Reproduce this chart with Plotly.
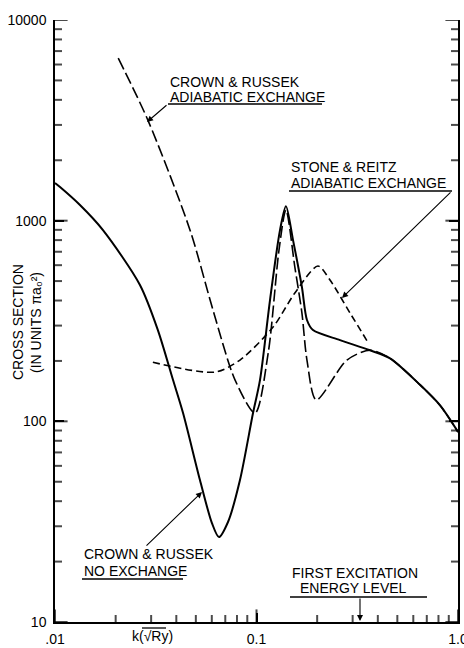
import plotly.graph_objects as go

# ---- data ----
k_no_exch = [0.0100, 0.01059, 0.0133, 0.0173, 0.0264, 0.0324, 0.0385, 0.0432, 0.0524, 0.0601,
             0.0651, 0.0722, 0.0828, 0.0961, 0.1041, 0.1167, 0.1308, 0.140, 0.1518, 0.168,
             0.178, 0.1907, 0.2597, 0.366, 0.460, 0.648, 0.815, 1.0]
s_no_exch = [1540, 1470, 1196, 897, 478, 285, 161, 110, 51, 31.1,
             26.5, 31.5, 51, 110, 161, 402, 897, 1180, 800, 467,
             320, 285, 254, 226, 206, 152, 120, 88.5]

k_cr_adiab = [0.0206, 0.0289, 0.0468, 0.0608, 0.0782, 0.0983, 0.1143, 0.1293, 0.140, 0.155,
              0.168, 0.178, 0.198, 0.281, 0.366, 0.460, 0.648, 0.815, 1.0]
s_cr_adiab = [6450, 3170, 897, 359, 161, 110, 219, 713, 1130, 587,
              347, 202, 128, 202, 226, 206, 152, 120, 88.5]

k_sr_adiab = [0.0306, 0.0622, 0.0828, 0.1208, 0.155, 0.2018, 0.2316, 0.291, 0.357]
s_sr_adiab = [197, 176, 202, 295, 436, 594, 506, 347, 248]

x_major = [0.01, 0.1, 1.0]
x_major_text = [".01", "0.1", "1.0"]
x_minor = [0.02, 0.03, 0.04, 0.05, 0.06, 0.07, 0.08, 0.09,
           0.2, 0.3, 0.4, 0.5, 0.6, 0.7, 0.8, 0.9]
y_major = [10, 100, 1000, 10000]
y_major_text = ["10", "100", "1000", "10000"]
y_minor = [m * d for d in (10, 100, 1000) for m in range(2, 10)]

FONT = "Liberation Sans"

# plot area in pixels
L, R, T, B = 55, 458, 20, 622
W, H = 464, 648


def px(xp, yp):
    return (xp - L) / (R - L), (B - yp) / (B - T)


fig = go.Figure()

# tick marks drawn as line markers on the axes (clipped to the plot area -> inside ticks)
x_ticks = x_major + x_minor
x_sizes = [18] * len(x_major) + [10] * len(x_minor)
y_ticks = y_major + y_minor
y_sizes = [18] * len(y_major) + [10] * len(y_minor)
tick_line = dict(color="black", width=2)
fig.add_trace(go.Scatter(x=x_ticks, y=[y_major[0]] * len(x_ticks), mode="markers",
                         marker=dict(symbol="line-ns", size=x_sizes, line=tick_line, color="black"),
                         hoverinfo="skip", showlegend=False, cliponaxis=True))
fig.add_trace(go.Scatter(x=[x_major[0]] * len(y_ticks), y=y_ticks, mode="markers",
                         marker=dict(symbol="line-ew", size=y_sizes, line=tick_line, color="black"),
                         hoverinfo="skip", showlegend=False, cliponaxis=True))
fig.add_trace(go.Scatter(x=[x_major[-1]] * len(y_ticks), y=y_ticks, mode="markers",
                         marker=dict(symbol="line-ew", size=y_sizes, line=tick_line, color="black"),
                         hoverinfo="skip", showlegend=False, cliponaxis=True))

fig.add_trace(go.Scatter(x=k_no_exch, y=s_no_exch, mode="lines",
                         line=dict(color="black", width=2, shape="spline", smoothing=0.8),
                         showlegend=False))
fig.add_trace(go.Scatter(x=k_cr_adiab, y=s_cr_adiab, mode="lines",
                         line=dict(color="black", width=1.6, dash="12px,4px", shape="spline", smoothing=0.8),
                         showlegend=False))
fig.add_trace(go.Scatter(x=k_sr_adiab, y=s_sr_adiab, mode="lines",
                         line=dict(color="black", width=1.6, dash="7px,4px", shape="spline", smoothing=0.8),
                         showlegend=False))

annotations = []
shapes = []


def text(t, xp, yp, size=14, anchor="left", angle=0):
    x, y = px(xp, yp)
    annotations.append(dict(text=t, x=x, y=y, xref="paper", yref="paper", showarrow=False,
                            xanchor=anchor, yanchor="middle", textangle=angle,
                            font=dict(family=FONT, size=size, color="black")))


def uline(x0, x1, yp):
    a, y = px(x0, yp)
    b, _ = px(x1, yp)
    shapes.append(dict(type="line", xref="paper", yref="paper", x0=a, x1=b, y0=y, y1=y,
                       line=dict(color="black", width=1.3)))


def arrow(hx, hy, tx, ty):
    x, y = px(hx, hy)
    annotations.append(dict(text="", x=x, y=y, xref="paper", yref="paper", showarrow=True,
                            ax=tx - hx, ay=ty - hy, arrowhead=2, arrowsize=1.1, arrowwidth=1.1,
                            arrowcolor="black", standoff=0))


text("CROWN &amp; RUSSEK", 168, 82)
text("ADIABATIC EXCHANGE", 168, 97)
uline(168, 322, 104)
arrow(147, 122, 168, 104)

text("STONE &amp; REITZ", 289, 167)
text("ADIABATIC EXCHANGE", 289, 183)
uline(289, 452, 191)
arrow(342, 298, 452, 191)

text("CROWN &amp; RUSSEK", 82, 554)
text("NO EXCHANGE", 82, 571)
uline(82, 183, 579)
arrow(202, 492, 145, 547)

text("FIRST EXCITATION", 290, 573)
text("ENERGY LEVEL", 298, 588)
uline(290, 427, 597)
arrow(360, 621, 360, 597)

text("CROSS SECTION", 18, 322, anchor="center", angle=-90)
text("(IN UNITS πa₀²)", 36, 323, anchor="center", angle=-90)
text("k(√Ry)", 152, 636, anchor="center")
uline(142, 166, 628)

tickfont = dict(family=FONT, size=14, color="black")
fig.update_layout(
    width=W, height=H,
    margin=dict(l=L, r=W - R, t=T, b=H - B, autoexpand=False),
    paper_bgcolor="white", plot_bgcolor="white",
    annotations=annotations, shapes=shapes,
    xaxis=dict(type="log", range=[-2, 0], showgrid=False, zeroline=False, automargin=False,
               showline=True, linecolor="black", linewidth=1.5, mirror=False,
               ticks="inside", ticklen=9, tickwidth=2, tickcolor="black",
               tickmode="array", tickvals=x_major, ticktext=x_major_text,
               tickfont=tickfont, ticklabelstandoff=3, ticklabeloverflow="allow"),
    yaxis=dict(type="log", range=[1, 4], showgrid=False, zeroline=False, automargin=False,
               showline=True, linecolor="black", linewidth=1.5, mirror="ticks",
               ticks="inside", ticklen=9, tickwidth=2, tickcolor="black",
               tickmode="array", tickvals=y_major, ticktext=y_major_text,
               tickfont=tickfont, ticklabelstandoff=4, ticklabeloverflow="allow"),
)

fig.write_html("out.html")
